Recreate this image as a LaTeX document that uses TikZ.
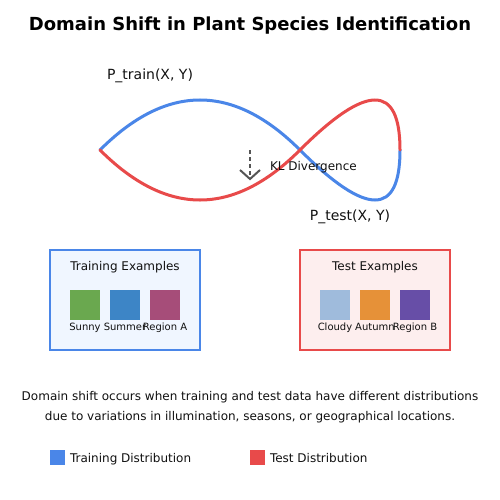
\documentclass[tikz,border=0pt]{standalone}
\usepackage{fontspec}
\setmainfont{DejaVu Sans}
\definecolor{trainblue}{HTML}{4A86E8}
\definecolor{testred}{HTML}{E84A4A}
\definecolor{trainfill}{HTML}{F0F6FF}
\definecolor{testfill}{HTML}{FDEEEE}
\definecolor{arrowgray}{HTML}{555555}
\definecolor{sqgreen}{HTML}{6AA84F}
\definecolor{sqblue}{HTML}{3D85C6}
\definecolor{sqplum}{HTML}{A64D79}
\definecolor{sqlightblue}{HTML}{9FBBDC}
\definecolor{sqorange}{HTML}{E69138}
\definecolor{sqpurple}{HTML}{674EA7}
\definecolor{txt}{HTML}{111111}
\begin{document}
\begin{tikzpicture}[x=1pt,y=-1pt,
  lbl/.style={inner sep=0pt,outer sep=0pt,text=txt,anchor=base},
  f18/.style={font=\fontsize{18}{21}\selectfont\bfseries},
  f14/.style={font=\fontsize{14}{17}\selectfont},
  f12/.style={font=\fontsize{12}{14}\selectfont},
  f10/.style={font=\fontsize{10}{12}\selectfont},
  curve/.style={line width=3pt,line cap=round,line join=round},
  panel/.style={line width=2pt},
  sample/.style={inner sep=0pt,outer sep=0pt,minimum width=30pt,minimum height=30pt,draw=none},
  legsq/.style={inner sep=0pt,outer sep=0pt,minimum width=15pt,minimum height=15pt,draw=none},
]
\useasboundingbox (0,0) rectangle (500,500);
\fill[white] (0,0) rectangle (500,500);

% title
\node[lbl,f18,text=black] (title) at (250,31) {Domain Shift in Plant Species Identification};

% distributions
\draw[curve,trainblue] (100,150) .. controls (166.67,83.33) and (233.33,83.33) .. (300,150)
  .. controls (366.67,216.67) and (400,216.67) .. (400,150);
\draw[curve,testred] (100,150) .. controls (166.67,216.67) and (233.33,216.67) .. (300,150)
  .. controls (366.67,83.33) and (400,83.33) .. (400,150);

\node[lbl,f14] (ptrain) at (150,80) {P\_train(X, Y)};
\node[lbl,f14] (ptest) at (350,220) {P\_test(X, Y)};

% KL arrow
\coordinate (klstart) at (250,150);
\coordinate (klend) at (250,179);
\draw[arrowgray,line width=2pt,dash pattern=on 4pt off 3pt] (klstart) -- (klend);
\draw[arrowgray,line width=2pt] (240,170) -- (klend) -- (260,170);
\node[lbl,f12,anchor=base west] (kl) at (270,170) {KL Divergence};

% training box
\draw[panel,draw=trainblue,fill=trainfill] (50,250) rectangle (200,350);
\node[lbl,f12] (trainttl) at (125,270) {Training Examples};
\node[sample,fill=sqgreen,anchor=north west] (s1) at (70,290) {};
\node[sample,fill=sqblue,anchor=north west] (s2) at (110,290) {};
\node[sample,fill=sqplum,anchor=north west] (s3) at (150,290) {};
\node[lbl,f10] (l1) at (85,330) {Sunny};
\node[lbl,f10] (l2) at (125,330) {Summer};
\node[lbl,f10] (l3) at (165,330) {Region A};

% test box
\draw[panel,draw=testred,fill=testfill] (300,250) rectangle (450,350);
\node[lbl,f12] (testttl) at (375,270) {Test Examples};
\node[sample,fill=sqlightblue,anchor=north west] (t1) at (320,290) {};
\node[sample,fill=sqorange,anchor=north west] (t2) at (360,290) {};
\node[sample,fill=sqpurple,anchor=north west] (t3) at (400,290) {};
\node[lbl,f10] (m1) at (335,330) {Cloudy};
\node[lbl,f10] (m2) at (375,330) {Autumn};
\node[lbl,f10] (m3) at (415,330) {Region B};

% description
\node[lbl,f12] (desc1) at (250,400) {Domain shift occurs when training and test data have different distributions};
\node[lbl,f12] (desc2) at (250,420) {due to variations in illumination, seasons, or geographical locations.};

% legend
\node[legsq,fill=trainblue,anchor=north west] (leg1) at (50,450) {};
\node[lbl,f12,anchor=base west] (leg1t) at (70,462) {Training Distribution};
\node[legsq,fill=testred,anchor=north west] (leg2) at (250,450) {};
\node[lbl,f12,anchor=base west] (leg2t) at (270,462) {Test Distribution};
\end{tikzpicture}
\end{document}
